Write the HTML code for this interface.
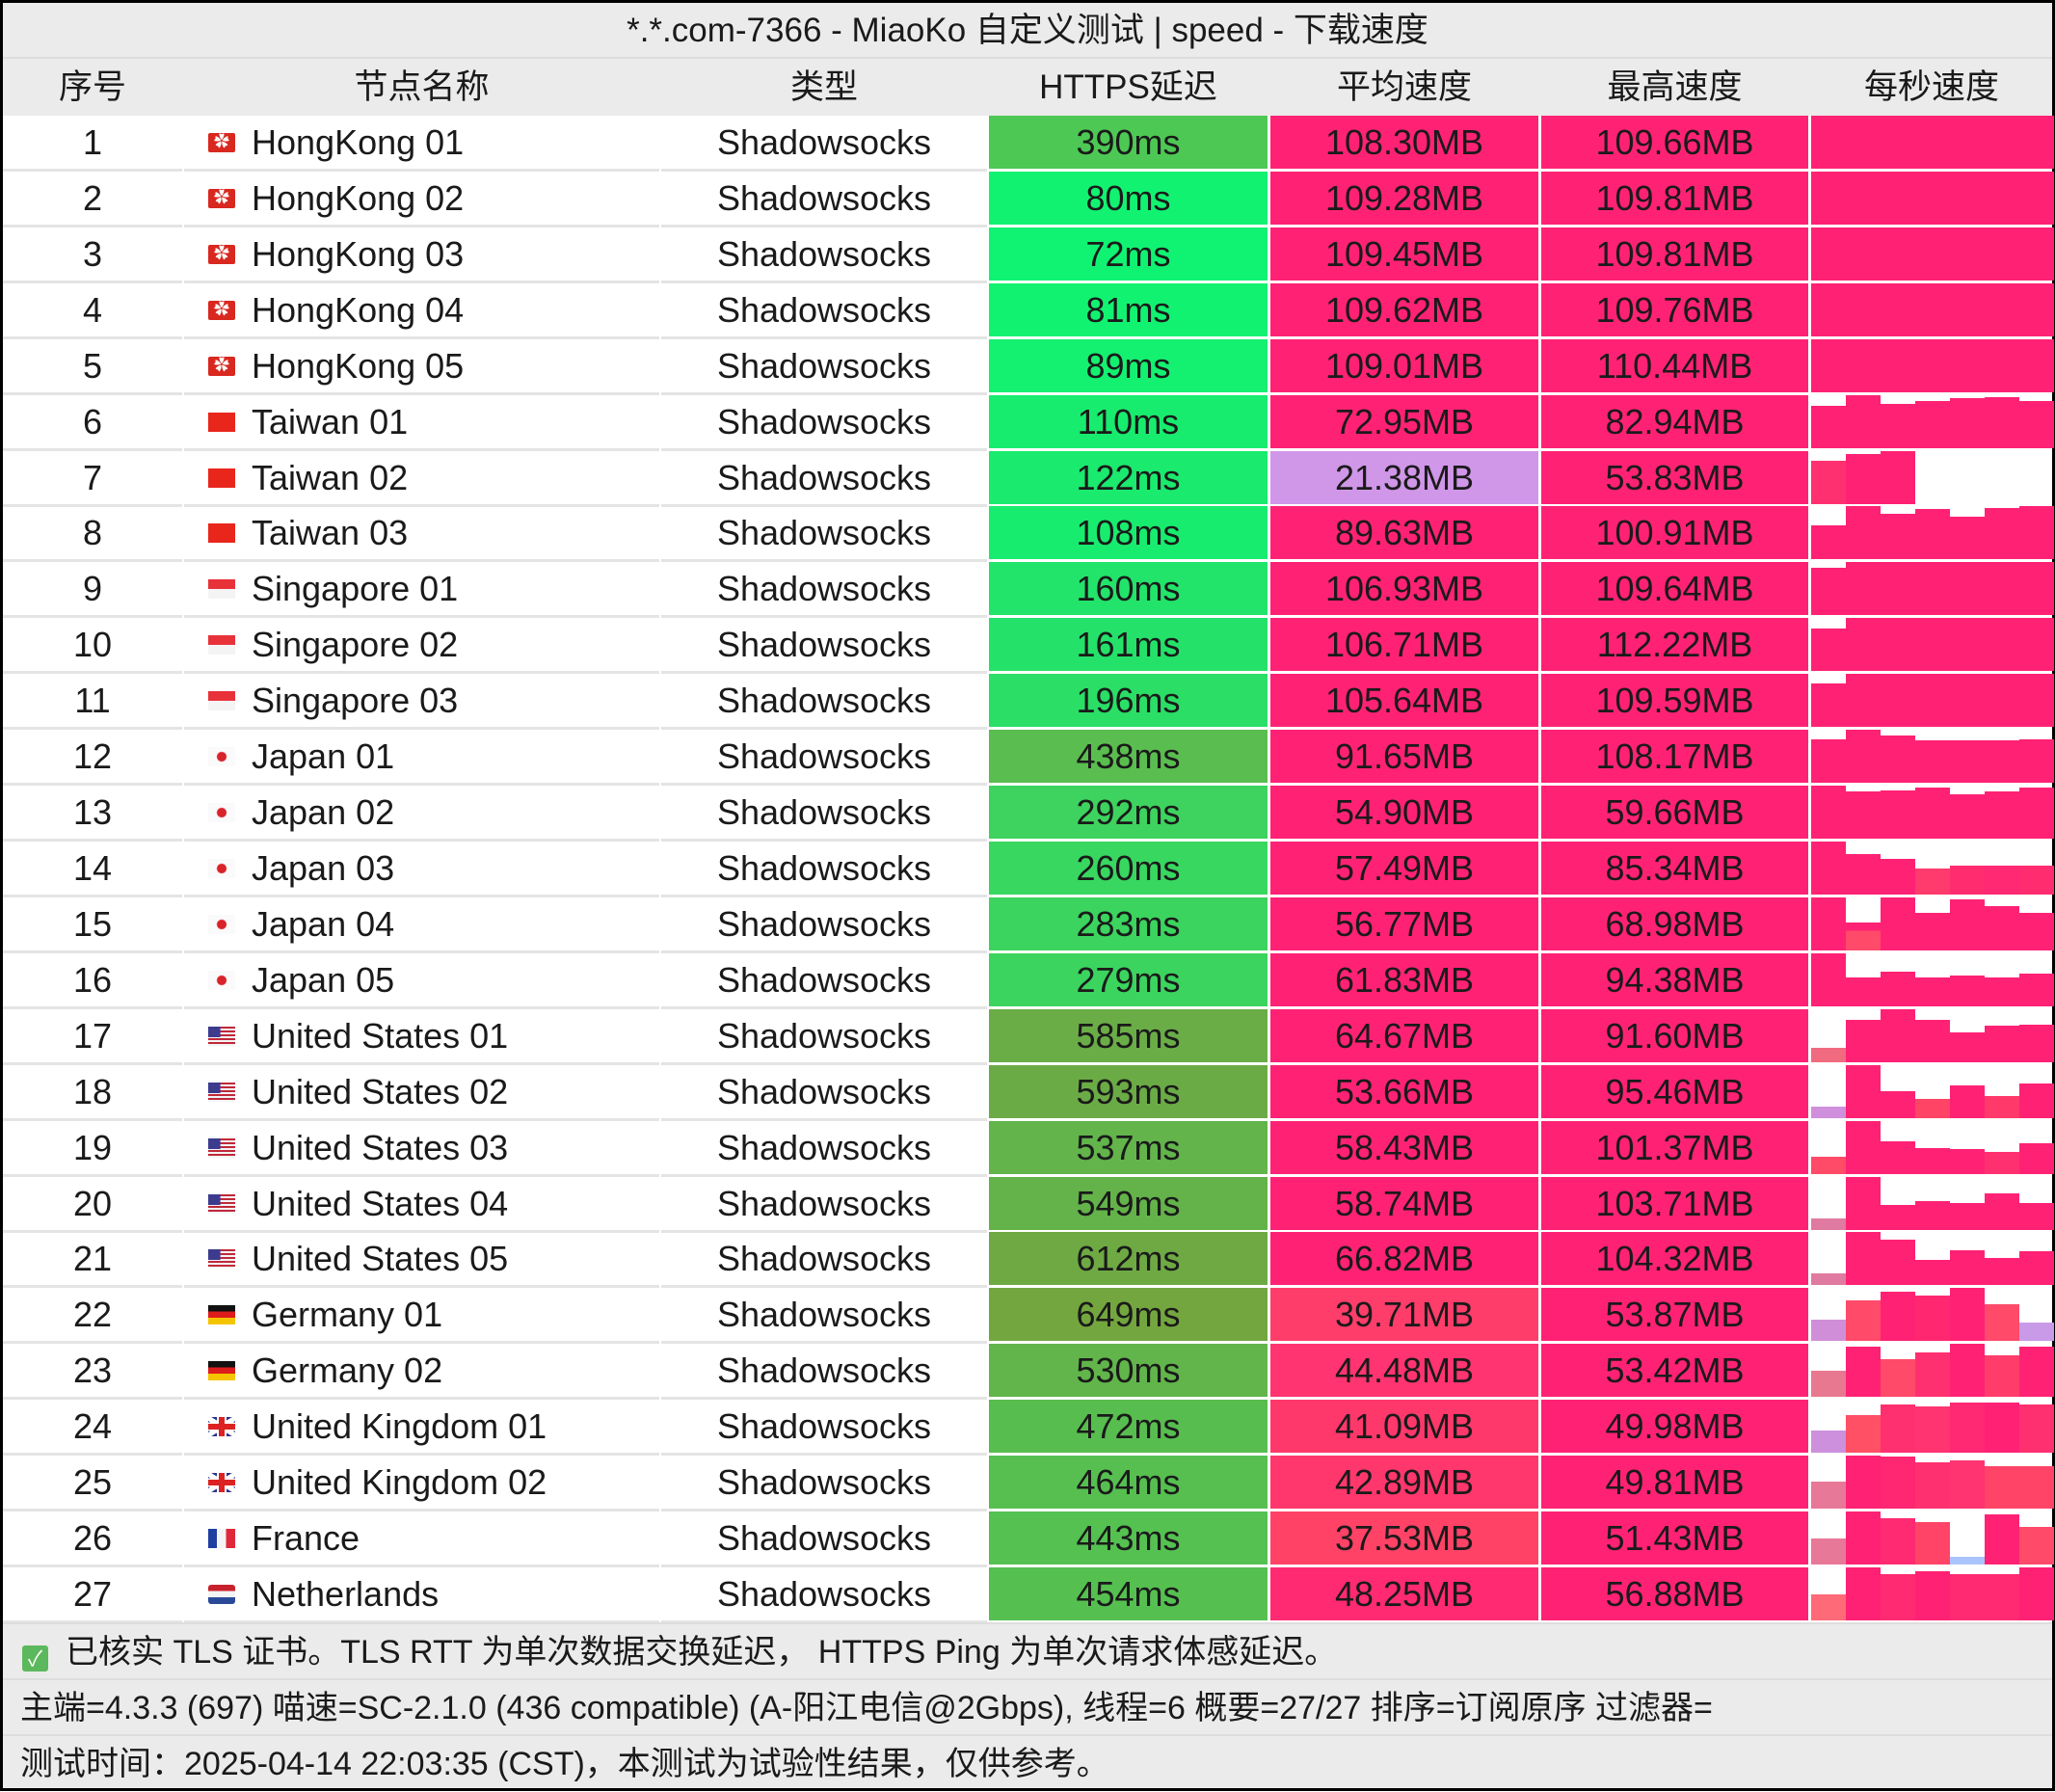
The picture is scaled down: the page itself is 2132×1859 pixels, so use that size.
<!DOCTYPE html>
<html><head><meta charset="utf-8">
<style>
*{margin:0;padding:0;box-sizing:border-box}
body{width:2132px;height:1858px;background:#fff;font-family:"Liberation Sans","Noto Sans CJK SC",sans-serif;color:#1a1a1a;overflow:hidden}
#w{position:absolute;left:0;top:0;width:2132px;height:1858px;border:3px solid #000;border-right:3px solid #000;background:#fff}
.t{position:absolute;left:0;top:0;width:2126px;height:58px;background:#ebebeb;text-align:center;line-height:58px;font-size:35px;border-bottom:2px solid #ddd}
.h{position:absolute;left:0;top:58px;width:2126px;height:59px;background:#ebebeb;font-size:35px}
.h div{position:absolute;top:0;height:59px;line-height:59px;text-align:center}
.rows{position:absolute;left:0;top:117px}
.r{position:relative;width:2126px;height:57.93px;font-size:36px}
.c{position:absolute;top:0;height:55px;line-height:56px;text-align:center}
.wc{border-bottom:3px solid #e4e4e4;height:58px}
.c0{left:0;width:186px}
.c1{left:188px;width:493px;text-align:left;padding-left:70px}
.c2{left:683px;width:338px}
.c3{left:1023px;width:289px}
.c4{left:1315px;width:278px;background:#ff2274}
.c5{left:1596px;width:277px;background:#ff2274}
.ch{position:absolute;left:1876px;top:0;width:252px;height:55px}
.ch i{position:absolute;bottom:0;width:36px;background:#ff2274}
.f{position:absolute;left:25px;top:18px;width:28px;height:20px}
.hk{background:#d9281f;border-radius:2px;overflow:hidden}
.hk:after{content:"✿";position:absolute;left:6px;top:-8px;color:#fff;font-size:16px;line-height:36px}
.tw{background:#e8261c}
.sg{background:linear-gradient(#e8323a 0 50%,#f4f4f4 50%)}
.jp{background:radial-gradient(circle at 50% 50%,#d8232a 0 4.5px,#fafafa 5.5px)}
.us{background:linear-gradient(#3c3b8e,#3c3b8e) 0 0/45% 55% no-repeat,repeating-linear-gradient(#c0283a 0 2px,#f4f4f4 2px 4px)}
.de{background:linear-gradient(#111 0 33%,#dd1c1c 33% 66%,#f5c400 66%)}
.uk{background:linear-gradient(90deg,transparent 40%,#d22 40% 60%,transparent 60%),linear-gradient(transparent 35%,#d22 35% 65%,transparent 65%),linear-gradient(90deg,transparent 33%,#fff 33% 67%,transparent 67%),linear-gradient(transparent 28%,#fff 28% 72%,transparent 72%),linear-gradient(33deg,transparent 42%,#fff 42% 58%,transparent 58%),linear-gradient(-33deg,transparent 42%,#fff 42% 58%,transparent 58%),#26358a}
.fr{background:linear-gradient(90deg,#1f3fa0 0 33%,#f4f4f4 33% 66%,#e0283a 66%)}
.nl{background:linear-gradient(#c8202c 0 33%,#f4f4f4 33% 66%,#2a4a98 66%);border-radius:3px}
.ft{position:absolute;left:0;width:2126px;height:58px;background:#ebebeb;font-size:34px;line-height:58px;border-top:2px solid #ddd}
</style></head><body>
<div id="w">
<div class="t">*.*.com-7366 - MiaoKo 自定义测试 | speed - 下载速度</div>
<div class="h">
<div style="left:0;width:186px">序号</div>
<div style="left:188px;width:493px">节点名称</div>
<div style="left:683px;width:338px">类型</div>
<div style="left:1023px;width:289px">HTTPS延迟</div>
<div style="left:1315px;width:278px">平均速度</div>
<div style="left:1596px;width:277px">最高速度</div>
<div style="left:1876px;width:250px">每秒速度</div>
</div>
<div class="rows">

<div class="r"><div class="c c0 wc">1</div><div class="c c1 wc"><span class="f hk"></span>HongKong 01</div><div class="c c2 wc">Shadowsocks</div><div class="c c3" style="background:#4dc854">390ms</div><div class="c c4">108.30MB</div><div class="c c5">109.66MB</div><div class="ch" style="background:#ff2274"></div></div>
<div class="r"><div class="c c0 wc">2</div><div class="c c1 wc"><span class="f hk"></span>HongKong 02</div><div class="c c2 wc">Shadowsocks</div><div class="c c3" style="background:#12f271">80ms</div><div class="c c4">109.28MB</div><div class="c c5">109.81MB</div><div class="ch" style="background:#ff2274"></div></div>
<div class="r"><div class="c c0 wc">3</div><div class="c c1 wc"><span class="f hk"></span>HongKong 03</div><div class="c c2 wc">Shadowsocks</div><div class="c c3" style="background:#10f372">72ms</div><div class="c c4">109.45MB</div><div class="c c5">109.81MB</div><div class="ch" style="background:#ff2274"></div></div>
<div class="r"><div class="c c0 wc">4</div><div class="c c1 wc"><span class="f hk"></span>HongKong 04</div><div class="c c2 wc">Shadowsocks</div><div class="c c3" style="background:#12f271">81ms</div><div class="c c4">109.62MB</div><div class="c c5">109.76MB</div><div class="ch" style="background:#ff2274"></div></div>
<div class="r"><div class="c c0 wc">5</div><div class="c c1 wc"><span class="f hk"></span>HongKong 05</div><div class="c c2 wc">Shadowsocks</div><div class="c c3" style="background:#14f070">89ms</div><div class="c c4">109.01MB</div><div class="c c5">110.44MB</div><div class="ch" style="background:#ff2274"></div></div>

<div class="r"><div class="c c0 wc">6</div><div class="c c1 wc"><span class="f tw"></span>Taiwan 01</div><div class="c c2 wc">Shadowsocks</div><div class="c c3" style="background:#18ec6e">110ms</div><div class="c c4">72.95MB</div><div class="c c5">82.94MB</div><div class="ch"><i style="left:0;height:44px"></i><i style="left:36px;height:55px"></i><i style="left:72px;height:46px"></i><i style="left:108px;height:49px"></i><i style="left:144px;height:52px"></i><i style="left:180px;height:53px"></i><i style="left:216px;height:49px"></i></div></div>
<div class="r"><div class="c c0 wc">7</div><div class="c c1 wc"><span class="f tw"></span>Taiwan 02</div><div class="c c2 wc">Shadowsocks</div><div class="c c3" style="background:#1aea6d">122ms</div><div class="c c4" style="background:#d096e8">21.38MB</div><div class="c c5">53.83MB</div><div class="ch"><i style="left:0;height:45px;background:#ff3070"></i><i style="left:36px;height:52px"></i><i style="left:72px;height:55px"></i></div></div>
<div class="r"><div class="c c0 wc">8</div><div class="c c1 wc"><span class="f tw"></span>Taiwan 03</div><div class="c c2 wc">Shadowsocks</div><div class="c c3" style="background:#18ec6e">108ms</div><div class="c c4">89.63MB</div><div class="c c5">100.91MB</div><div class="ch"><i style="left:0;height:35px"></i><i style="left:36px;height:55px"></i><i style="left:72px;height:47px"></i><i style="left:108px;height:52px"></i><i style="left:144px;height:44px"></i><i style="left:180px;height:53px"></i><i style="left:216px;height:55px"></i></div></div>
<div class="r"><div class="c c0 wc">9</div><div class="c c1 wc"><span class="f sg"></span>Singapore 01</div><div class="c c2 wc">Shadowsocks</div><div class="c c3" style="background:#22e46a">160ms</div><div class="c c4">106.93MB</div><div class="c c5">109.64MB</div><div class="ch"><i style="left:0;height:49px"></i><i style="left:36px;width:216px;height:55px"></i></div></div>
<div class="r"><div class="c c0 wc">10</div><div class="c c1 wc"><span class="f sg"></span>Singapore 02</div><div class="c c2 wc">Shadowsocks</div><div class="c c3" style="background:#24e269">161ms</div><div class="c c4">106.71MB</div><div class="c c5">112.22MB</div><div class="ch"><i style="left:0;height:44px"></i><i style="left:36px;width:216px;height:55px"></i></div></div>
<div class="r"><div class="c c0 wc">11</div><div class="c c1 wc"><span class="f sg"></span>Singapore 03</div><div class="c c2 wc">Shadowsocks</div><div class="c c3" style="background:#2ade66">196ms</div><div class="c c4">105.64MB</div><div class="c c5">109.59MB</div><div class="ch"><i style="left:0;height:45px"></i><i style="left:36px;width:216px;height:55px"></i></div></div>
<div class="r"><div class="c c0 wc">12</div><div class="c c1 wc"><span class="f jp"></span>Japan 01</div><div class="c c2 wc">Shadowsocks</div><div class="c c3" style="background:#5abd4f">438ms</div><div class="c c4">91.65MB</div><div class="c c5">108.17MB</div><div class="ch"><i style="left:0;height:45px"></i><i style="left:36px;height:55px"></i><i style="left:72px;height:49px"></i><i style="left:108px;height:44px"></i><i style="left:144px;height:44px"></i><i style="left:180px;height:44px"></i><i style="left:216px;height:45px"></i></div></div>
<div class="r"><div class="c c0 wc">13</div><div class="c c1 wc"><span class="f jp"></span>Japan 02</div><div class="c c2 wc">Shadowsocks</div><div class="c c3" style="background:#3dd35e">292ms</div><div class="c c4">54.90MB</div><div class="c c5">59.66MB</div><div class="ch"><i style="left:0;height:55px"></i><i style="left:36px;height:49px"></i><i style="left:72px;height:50px"></i><i style="left:108px;height:53px"></i><i style="left:144px;height:46px"></i><i style="left:180px;height:49px"></i><i style="left:216px;height:53px"></i></div></div>
<div class="r"><div class="c c0 wc">14</div><div class="c c1 wc"><span class="f jp"></span>Japan 03</div><div class="c c2 wc">Shadowsocks</div><div class="c c3" style="background:#38d760">260ms</div><div class="c c4">57.49MB</div><div class="c c5">85.34MB</div><div class="ch"><i style="left:0;height:55px"></i><i style="left:36px;height:42px"></i><i style="left:72px;height:37px"></i><i style="left:108px;height:27px;background:#ff3a6c"></i><i style="left:144px;height:30px;background:#ff2c70"></i><i style="left:180px;height:30px;background:#ff2872"></i><i style="left:216px;height:30px;background:#ff2c70"></i></div></div>
<div class="r"><div class="c c0 wc">15</div><div class="c c1 wc"><span class="f jp"></span>Japan 04</div><div class="c c2 wc">Shadowsocks</div><div class="c c3" style="background:#3bd45e">283ms</div><div class="c c4">56.77MB</div><div class="c c5">68.98MB</div><div class="ch"><i style="left:0;height:55px"></i><i style="left:36px;height:29px;background:linear-gradient(#ff2274 0 30%,#ff4a6a 30%)"></i><i style="left:72px;height:55px"></i><i style="left:108px;height:39px"></i><i style="left:144px;height:53px"></i><i style="left:180px;height:46px"></i><i style="left:216px;height:39px"></i></div></div>
<div class="r"><div class="c c0 wc">16</div><div class="c c1 wc"><span class="f jp"></span>Japan 05</div><div class="c c2 wc">Shadowsocks</div><div class="c c3" style="background:#3bd45f">279ms</div><div class="c c4">61.83MB</div><div class="c c5">94.38MB</div><div class="ch"><i style="left:0;height:55px"></i><i style="left:36px;height:30px"></i><i style="left:72px;height:36px"></i><i style="left:108px;height:30px"></i><i style="left:144px;height:32px"></i><i style="left:180px;height:30px"></i><i style="left:216px;height:34px"></i></div></div>

<div class="r"><div class="c c0 wc">17</div><div class="c c1 wc"><span class="f us"></span>United States 01</div><div class="c c2 wc">Shadowsocks</div><div class="c c3" style="background:#6aad47">585ms</div><div class="c c4">64.67MB</div><div class="c c5">91.60MB</div><div class="ch"><i style="left:0;height:15px;background:#f06a80"></i><i style="left:36px;height:44px"></i><i style="left:72px;height:55px"></i><i style="left:108px;height:44px"></i><i style="left:144px;height:31px"></i><i style="left:180px;height:38px"></i><i style="left:216px;height:39px"></i></div></div>
<div class="r"><div class="c c0 wc">18</div><div class="c c1 wc"><span class="f us"></span>United States 02</div><div class="c c2 wc">Shadowsocks</div><div class="c c3" style="background:#6bab46">593ms</div><div class="c c4">53.66MB</div><div class="c c5">95.46MB</div><div class="ch"><i style="left:0;height:12px;background:#cf8fdc"></i><i style="left:36px;height:55px"></i><i style="left:72px;height:28px"></i><i style="left:108px;height:20px;background:#ff4466"></i><i style="left:144px;height:34px"></i><i style="left:180px;height:23px;background:#ff3a6a"></i><i style="left:216px;height:36px"></i></div></div>
<div class="r"><div class="c c0 wc">19</div><div class="c c1 wc"><span class="f us"></span>United States 03</div><div class="c c2 wc">Shadowsocks</div><div class="c c3" style="background:#62b44b">537ms</div><div class="c c4">58.43MB</div><div class="c c5">101.37MB</div><div class="ch"><i style="left:0;height:18px;background:#ff4a68"></i><i style="left:36px;height:55px"></i><i style="left:72px;height:34px"></i><i style="left:108px;height:27px"></i><i style="left:144px;height:26px"></i><i style="left:180px;height:23px;background:#ff3070"></i><i style="left:216px;height:32px"></i></div></div>
<div class="r"><div class="c c0 wc">20</div><div class="c c1 wc"><span class="f us"></span>United States 04</div><div class="c c2 wc">Shadowsocks</div><div class="c c3" style="background:#64b24a">549ms</div><div class="c c4">58.74MB</div><div class="c c5">103.71MB</div><div class="ch"><i style="left:0;height:12px;background:#e07aa0"></i><i style="left:36px;height:55px"></i><i style="left:72px;height:26px"></i><i style="left:108px;height:30px"></i><i style="left:144px;height:28px"></i><i style="left:180px;height:38px"></i><i style="left:216px;height:28px"></i></div></div>
<div class="r"><div class="c c0 wc">21</div><div class="c c1 wc"><span class="f us"></span>United States 05</div><div class="c c2 wc">Shadowsocks</div><div class="c c3" style="background:#6ea944">612ms</div><div class="c c4">66.82MB</div><div class="c c5">104.32MB</div><div class="ch"><i style="left:0;height:12px;background:#e07aa0"></i><i style="left:36px;height:55px"></i><i style="left:72px;height:47px"></i><i style="left:108px;height:26px"></i><i style="left:144px;height:36px"></i><i style="left:180px;height:28px"></i><i style="left:216px;height:35px"></i></div></div>
<div class="r"><div class="c c0 wc">22</div><div class="c c1 wc"><span class="f de"></span>Germany 01</div><div class="c c2 wc">Shadowsocks</div><div class="c c3" style="background:#74a63f">649ms</div><div class="c c4" style="background:#ff3d6a">39.71MB</div><div class="c c5">53.87MB</div><div class="ch"><i style="left:0;height:22px;background:#d08ed8"></i><i style="left:36px;height:42px;background:#ff4a6a"></i><i style="left:72px;height:51px"></i><i style="left:108px;height:47px;background:#ff2870"></i><i style="left:144px;height:55px"></i><i style="left:180px;height:38px;background:#ff4a6a"></i><i style="left:216px;height:19px;background:#c89ae8"></i></div></div>
<div class="r"><div class="c c0 wc">23</div><div class="c c1 wc"><span class="f de"></span>Germany 02</div><div class="c c2 wc">Shadowsocks</div><div class="c c3" style="background:#61b54b">530ms</div><div class="c c4" style="background:#ff3470">44.48MB</div><div class="c c5">53.42MB</div><div class="ch"><i style="left:0;height:27px;background:#e87890"></i><i style="left:36px;height:52px"></i><i style="left:72px;height:39px;background:#ff4a6a"></i><i style="left:108px;height:46px;background:#ff3070"></i><i style="left:144px;height:55px"></i><i style="left:180px;height:43px;background:#ff3c6a"></i><i style="left:216px;height:52px"></i></div></div>
<div class="r"><div class="c c0 wc">24</div><div class="c c1 wc"><span class="f uk"></span>United Kingdom 01</div><div class="c c2 wc">Shadowsocks</div><div class="c c3" style="background:#58bd4f">472ms</div><div class="c c4" style="background:#ff386c">41.09MB</div><div class="c c5">49.98MB</div><div class="ch"><i style="left:0;height:23px;background:#cc90dc"></i><i style="left:36px;height:39px;background:#ff5066"></i><i style="left:72px;height:50px;background:#ff3070"></i><i style="left:108px;height:48px;background:#ff3470"></i><i style="left:144px;height:52px;background:#ff2872"></i><i style="left:180px;height:52px"></i><i style="left:216px;height:50px;background:#ff3070"></i></div></div>
<div class="r"><div class="c c0 wc">25</div><div class="c c1 wc"><span class="f uk"></span>United Kingdom 02</div><div class="c c2 wc">Shadowsocks</div><div class="c c3" style="background:#56bf50">464ms</div><div class="c c4" style="background:#ff376c">42.89MB</div><div class="c c5">49.81MB</div><div class="ch"><i style="left:0;height:28px;background:#e87898"></i><i style="left:36px;height:55px"></i><i style="left:72px;height:54px;background:#ff2672"></i><i style="left:108px;height:48px;background:#ff3070"></i><i style="left:144px;height:50px;background:#ff3470"></i><i style="left:180px;height:44px;background:#ff4468"></i><i style="left:216px;height:44px;background:#ff4468"></i></div></div>
<div class="r"><div class="c c0 wc">26</div><div class="c c1 wc"><span class="f fr"></span>France</div><div class="c c2 wc">Shadowsocks</div><div class="c c3" style="background:#54c151">443ms</div><div class="c c4" style="background:#ff4266">37.53MB</div><div class="c c5">51.43MB</div><div class="ch"><i style="left:0;height:27px;background:#e87898"></i><i style="left:36px;height:55px"></i><i style="left:72px;height:48px;background:#ff2a72"></i><i style="left:108px;height:44px;background:#ff4468"></i><i style="left:144px;height:8px;background:#aac4ff"></i><i style="left:180px;height:52px"></i><i style="left:216px;height:39px;background:#ff4a6a"></i></div></div>
<div class="r"><div class="c c0 wc">27</div><div class="c c1 wc"><span class="f nl"></span>Netherlands</div><div class="c c2 wc">Shadowsocks</div><div class="c c3" style="background:#55c050">454ms</div><div class="c c4" style="background:#ff2a72">48.25MB</div><div class="c c5">56.88MB</div><div class="ch"><i style="left:0;height:27px;background:#ff6a78"></i><i style="left:36px;height:55px"></i><i style="left:72px;height:48px;background:#ff2a72"></i><i style="left:108px;height:51px"></i><i style="left:144px;height:48px;background:#ff2a72"></i><i style="left:180px;height:48px;background:#ff2a72"></i><i style="left:216px;height:55px"></i></div></div>
</div>

<div class="ft" style="top:1680px;padding-left:20px"><span style="display:inline-block;width:27px;height:27px;background:#5cb85c;border-radius:3px;color:#fff;font-size:22px;line-height:27px;text-align:center;vertical-align:-3px;margin-right:18px">✓</span>已核实 TLS 证书。TLS RTT 为单次数据交换延迟， HTTPS Ping 为单次请求体感延迟。</div>
<div class="ft" style="top:1738px;padding-left:18px">主端=4.3.3 (697) 喵速=SC-2.1.0 (436 compatible) (A-阳江电信@2Gbps), 线程=6 概要=27/27 排序=订阅原序 过滤器=</div>
<div class="ft" style="top:1796px;padding-left:18px;height:56px">测试时间：2025-04-14 22:03:35 (CST)，本测试为试验性结果，仅供参考。</div>
</div>
</body></html>
